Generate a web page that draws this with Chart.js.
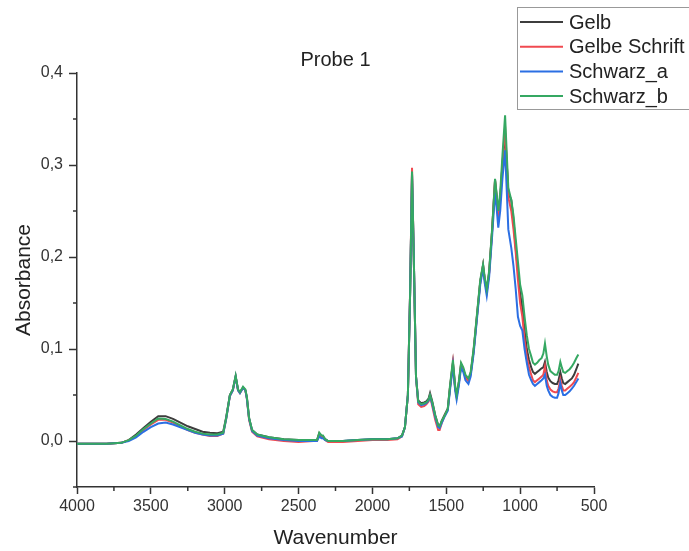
<!DOCTYPE html>
<html>
<head>
<meta charset="utf-8">
<script src="https://cdn.jsdelivr.net/npm/chart.js@4/dist/chart.umd.min.js"></script>
<style>
  body { margin: 0; background: #fff; }
  #wrap { width: 689px; height: 551px; }
</style>
</head>
<body>
<div id="wrap"><canvas id="probeChart" width="689" height="551"></canvas></div>
<script>
// wavenumbers (cm-1), shared by all four spectra
var wavenumbers = [4000, 3800, 3700, 3650, 3600, 3550, 3500, 3450, 3400, 3350, 3300, 3250, 3200, 3150, 3100, 3050, 3010, 2990, 2965, 2945, 2926, 2910, 2897, 2876, 2860, 2850, 2835, 2815, 2780, 2700, 2600, 2500, 2400, 2375, 2360, 2345, 2335, 2320, 2300, 2200, 2100, 2000, 1900, 1830, 1800, 1780, 1760, 1745, 1732, 1720, 1705, 1690, 1670, 1650, 1635, 1620, 1610, 1595, 1575, 1555, 1545, 1530, 1510, 1490, 1475, 1455, 1440, 1430, 1415, 1400, 1385, 1370, 1350, 1335, 1315, 1300, 1285, 1270, 1251, 1240, 1226, 1210, 1190, 1170, 1160, 1148, 1135, 1120, 1102, 1090, 1080, 1060, 1045, 1030, 1015, 1000, 985, 970, 955, 940, 925, 913, 900, 885, 870, 855, 843, 832, 820, 810, 795, 780, 765, 750, 740, 728, 718, 708, 695, 680, 665, 650, 635, 620, 606];

var gelb = [-0.003, -0.003, -0.002, 0.001, 0.007, 0.014, 0.021, 0.027, 0.027, 0.024, 0.020, 0.016, 0.013, 0.010, 0.009, 0.0085, 0.010, 0.026, 0.050, 0.056, 0.070, 0.056, 0.053, 0.058, 0.055, 0.047, 0.025, 0.012, 0.007, 0.004, 0.002, 0.001, 0.001, 0.001, 0.008, 0.005, 0.005, 0.002, 0.000, 0.000, 0.001, 0.002, 0.002, 0.003, 0.006, 0.015, 0.05, 0.16, 0.291, 0.20, 0.07, 0.044, 0.041, 0.042, 0.043, 0.046, 0.052, 0.043, 0.028, 0.017, 0.016, 0.022, 0.029, 0.035, 0.058, 0.085, 0.058, 0.049, 0.063, 0.083, 0.078, 0.070, 0.066, 0.073, 0.098, 0.123, 0.148, 0.173, 0.191, 0.176, 0.163, 0.183, 0.228, 0.284, 0.268, 0.245, 0.265, 0.30, 0.335, 0.30, 0.27, 0.262, 0.24, 0.21, 0.185, 0.16, 0.145, 0.12, 0.10, 0.088, 0.080, 0.075, 0.073, 0.075, 0.077, 0.079, 0.080, 0.086, 0.075, 0.069, 0.065, 0.063, 0.062, 0.062, 0.066, 0.075, 0.068, 0.063, 0.062, 0.064, 0.066, 0.068, 0.072, 0.078, 0.084];

var gelbeSchrift = [-0.003, -0.003, -0.002, 0.001, 0.005, 0.012, 0.018, 0.023, 0.023, 0.020, 0.016, 0.012, 0.009, 0.007, 0.0055, 0.0055, 0.008, 0.024, 0.049, 0.055, 0.070, 0.055, 0.052, 0.058, 0.055, 0.046, 0.023, 0.010, 0.005, 0.002, 0.000, -0.001, 0.000, 0.000, 0.008, 0.005, 0.005, 0.001, -0.001, -0.001, 0.000, 0.001, 0.001, 0.002, 0.005, 0.015, 0.05, 0.162, 0.297, 0.20, 0.07, 0.040, 0.037, 0.038, 0.040, 0.043, 0.049, 0.038, 0.023, 0.012, 0.012, 0.020, 0.028, 0.034, 0.058, 0.085, 0.058, 0.048, 0.063, 0.083, 0.078, 0.069, 0.065, 0.073, 0.098, 0.123, 0.148, 0.173, 0.191, 0.176, 0.162, 0.182, 0.228, 0.283, 0.265, 0.240, 0.262, 0.30, 0.342, 0.30, 0.265, 0.25, 0.23, 0.205, 0.175, 0.15, 0.135, 0.11, 0.092, 0.080, 0.072, 0.066, 0.064, 0.066, 0.068, 0.070, 0.072, 0.081, 0.066, 0.060, 0.056, 0.054, 0.053, 0.053, 0.057, 0.067, 0.060, 0.055, 0.055, 0.057, 0.059, 0.061, 0.064, 0.069, 0.074];

var schwarzA = [-0.003, -0.003, -0.002, 0.000, 0.004, 0.010, 0.015, 0.019, 0.020, 0.018, 0.015, 0.012, 0.009, 0.007, 0.006, 0.006, 0.008, 0.024, 0.049, 0.055, 0.070, 0.055, 0.052, 0.058, 0.055, 0.046, 0.024, 0.011, 0.006, 0.003, 0.001, 0.000, 0.000, 0.000, 0.005, 0.003, 0.003, 0.001, 0.000, 0.000, 0.001, 0.002, 0.002, 0.003, 0.005, 0.015, 0.05, 0.16, 0.290, 0.20, 0.07, 0.042, 0.039, 0.040, 0.041, 0.044, 0.049, 0.040, 0.026, 0.015, 0.014, 0.020, 0.027, 0.033, 0.055, 0.082, 0.055, 0.045, 0.060, 0.080, 0.075, 0.066, 0.062, 0.070, 0.095, 0.120, 0.145, 0.170, 0.188, 0.172, 0.158, 0.178, 0.222, 0.270, 0.255, 0.232, 0.250, 0.285, 0.316, 0.27, 0.23, 0.21, 0.19, 0.165, 0.135, 0.125, 0.12, 0.10, 0.085, 0.072, 0.066, 0.062, 0.060, 0.062, 0.064, 0.066, 0.068, 0.072, 0.060, 0.055, 0.050, 0.048, 0.047, 0.047, 0.052, 0.063, 0.055, 0.050, 0.050, 0.052, 0.054, 0.057, 0.060, 0.064, 0.068];

var schwarzB = [-0.003, -0.003, -0.002, 0.001, 0.006, 0.013, 0.019, 0.0245, 0.024, 0.021, 0.017, 0.013, 0.010, 0.008, 0.007, 0.007, 0.009, 0.025, 0.050, 0.056, 0.071, 0.056, 0.053, 0.059, 0.056, 0.048, 0.025, 0.012, 0.007, 0.004, 0.002, 0.001, 0.001, 0.001, 0.009, 0.006, 0.006, 0.002, 0.000, 0.000, 0.001, 0.002, 0.002, 0.003, 0.006, 0.015, 0.05, 0.16, 0.293, 0.20, 0.07, 0.043, 0.040, 0.041, 0.042, 0.045, 0.050, 0.042, 0.028, 0.017, 0.016, 0.022, 0.028, 0.035, 0.060, 0.088, 0.060, 0.050, 0.065, 0.085, 0.080, 0.072, 0.068, 0.075, 0.100, 0.125, 0.150, 0.175, 0.192, 0.178, 0.165, 0.185, 0.230, 0.285, 0.270, 0.250, 0.270, 0.310, 0.354, 0.31, 0.275, 0.262, 0.245, 0.22, 0.195, 0.17, 0.158, 0.135, 0.115, 0.100, 0.092, 0.085, 0.083, 0.085, 0.088, 0.090, 0.095, 0.106, 0.092, 0.083, 0.076, 0.074, 0.072, 0.072, 0.076, 0.086, 0.080, 0.075, 0.074, 0.076, 0.078, 0.081, 0.085, 0.090, 0.094];

var seriesNames = ['Gelb', 'Gelbe Schrift', 'Schwarz_a', 'Schwarz_b'];
var seriesColors = ['#3d3d3d', '#f04a50', '#2b6fe3', '#35a862'];
var xTickLabels = [4000, 3500, 3000, 2500, 2000, 1500, 1000, 500];
var yTickLabels = ['0,0', '0,1', '0,2', '0,3', '0,4'];

var FONT = '"Liberation Sans", Arial, sans-serif';
var AXIS = '#333';

function toPoints(ys) {
  var pts = [];
  for (var i = 0; i < wavenumbers.length; i++) {
    pts.push({ x: wavenumbers[i], y: ys[i] });
  }
  return pts;
}

var allSeries = [gelb, gelbeSchrift, schwarzA, schwarzB];
var datasets = [];
for (var i = 0; i < allSeries.length; i++) {
  datasets.push({
    label: seriesNames[i],
    data: toPoints(allSeries[i]),
    borderColor: seriesColors[i],
    borderWidth: 2,
    pointRadius: 0,
    tension: 0,
    order: allSeries.length - i
  });
}

// minor ticks, title and legend box
var extras = {
  id: 'extras',
  afterDraw: function (chart) {
    var ctx = chart.ctx;
    var xs = chart.scales.x, ys = chart.scales.y;
    var area = chart.chartArea;
    ctx.save();
    ctx.strokeStyle = AXIS;
    ctx.lineWidth = 1.5;
    // minor ticks
    for (var w = 750; w < 4000; w += 500) {
      var px = xs.getPixelForValue(w);
      ctx.beginPath();
      ctx.moveTo(px, area.bottom);
      ctx.lineTo(px, area.bottom + 4);
      ctx.stroke();
    }
    var minorY = [-0.05, 0.05, 0.15, 0.25, 0.35];
    for (var k = 0; k < minorY.length; k++) {
      var py = ys.getPixelForValue(minorY[k]);
      ctx.beginPath();
      ctx.moveTo(area.left, py);
      ctx.lineTo(area.left - 4, py);
      ctx.stroke();
    }
    // title
    ctx.fillStyle = '#222';
    ctx.font = '20px ' + FONT;
    ctx.textAlign = 'center';
    ctx.textBaseline = 'middle';
    ctx.fillText('Probe 1', (area.left + area.right) / 2, 60);
    // legend
    ctx.fillStyle = '#fff';
    ctx.fillRect(517, 7, 180, 102);
    ctx.strokeStyle = '#999';
    ctx.lineWidth = 1;
    ctx.strokeRect(517.5, 7.5, 180, 102);
    ctx.font = '20px ' + FONT;
    ctx.textAlign = 'left';
    for (var j = 0; j < seriesNames.length; j++) {
      var ly = 22 + j * 24.7;
      ctx.strokeStyle = seriesColors[j];
      ctx.lineWidth = 2;
      ctx.beginPath();
      ctx.moveTo(520, ly);
      ctx.lineTo(563, ly);
      ctx.stroke();
      ctx.fillStyle = '#222';
      ctx.fillText(seriesNames[j], 569, ly + 1);
    }
    ctx.restore();
  }
};

var ctx = document.getElementById('probeChart').getContext('2d');
var probeChart = new Chart(ctx, {
  type: 'line',
  data: { datasets: datasets },
  options: {
    responsive: false,
    animation: false,
    layout: { padding: { top: 73, right: 95, left: 0, bottom: 0 } },
    plugins: { legend: { display: false }, tooltip: { enabled: false } },
    scales: {
      x: {
        type: 'linear',
        reverse: true,
        min: 500,
        max: 4000,
        afterBuildTicks: function (axis) {
          axis.ticks = xTickLabels.map(function (v) { return { value: v }; });
        },
        afterFit: function (axis) { axis.height = 64; },
        border: { display: true, color: AXIS, width: 1.5 },
        grid: { drawOnChartArea: false, drawTicks: true, tickLength: 7, tickColor: AXIS, tickWidth: 1.5 },
        ticks: {
          autoSkip: false,
          maxRotation: 0,
          padding: 3,
          color: '#333',
          font: { family: FONT, size: 16 },
          callback: function (v) { return String(v); }
        },
        title: {
          display: true,
          text: 'Wavenumber',
          color: '#222',
          font: { family: FONT, size: 21 },
          padding: { top: 0, bottom: 0 }
        }
      },
      y: {
        type: 'linear',
        min: -0.05,
        max: 0.4,
        afterBuildTicks: function (axis) {
          axis.ticks = [0, 0.1, 0.2, 0.3, 0.4].map(function (v) { return { value: v }; });
        },
        afterFit: function (axis) { axis.width = 77; },
        border: { display: true, color: AXIS, width: 1.5 },
        grid: { drawOnChartArea: false, drawTicks: true, tickLength: 8, tickColor: AXIS, tickWidth: 1.5 },
        ticks: {
          padding: 6,
          color: '#333',
          font: { family: FONT, size: 16 },
          callback: function (v, idx) { return yTickLabels[idx]; }
        },
        title: {
          display: true,
          text: 'Absorbance',
          color: '#222',
          font: { family: FONT, size: 21 },
          padding: { top: 12, bottom: 0 }
        }
      }
    }
  },
  plugins: [extras]
});
</script>
</body>
</html>
